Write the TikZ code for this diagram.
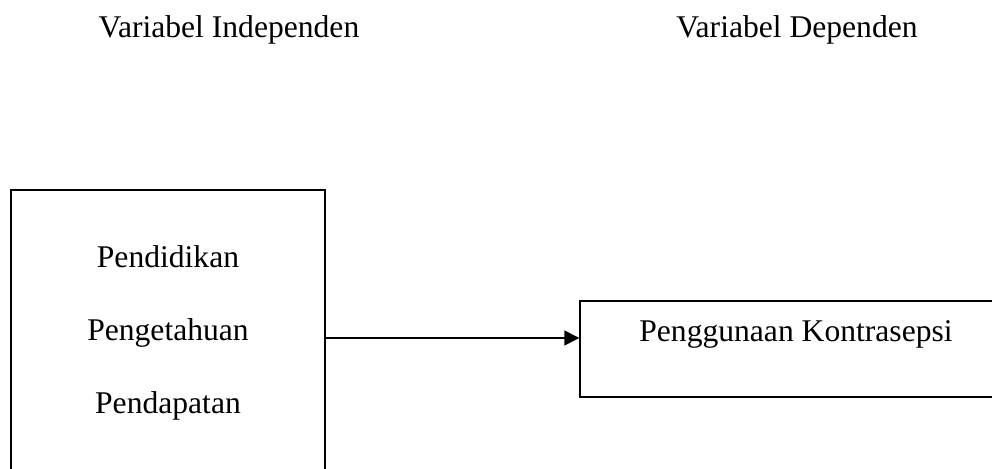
\documentclass[tikz,border=0pt]{standalone}
\usepackage{fontspec}
\setmainfont{Liberation Serif}
\usepackage{tikz}
\usetikzlibrary{arrows.meta,shapes,positioning}
\tikzstyle{varbox}=[draw=black, line width=0.7pt, rectangle, inner sep=0pt]
\tikzstyle{lab}=[font=\fontsize{15.8pt}{36.5pt}\selectfont]
\tikzstyle{link}=[line width=0.7pt, -{Triangle[length=7.5pt,width=7.5pt]}]

\begin{document}
\begin{tikzpicture}[x=0.5pt,y=-0.5pt]
          %
          \useasboundingbox (0,0) rectangle (992,469);
          \node at (229,38) [lab, anchor=base] (indeptitle) {Variabel Independen};
          \node at (797,38) [lab, anchor=base] (deptitle) {Variabel Dependen};
          \node at (168,333) [varbox, lab, align=center, minimum width=157pt, minimum height=143pt] (indep)
                {Pendidikan\\Pengetahuan\\Pendapatan};
          \node at (796,342) [varbox, lab, anchor=base, minimum width=216pt, text height=20.5pt, text depth=27.5pt] (dep)
                {Penggunaan Kontrasepsi};
          \coordinate (tip) at ([yshift=2pt]dep.base west);
          \draw[link] (indep.east |- tip) -- (tip);
          %
        \end{tikzpicture}
\end{document}
